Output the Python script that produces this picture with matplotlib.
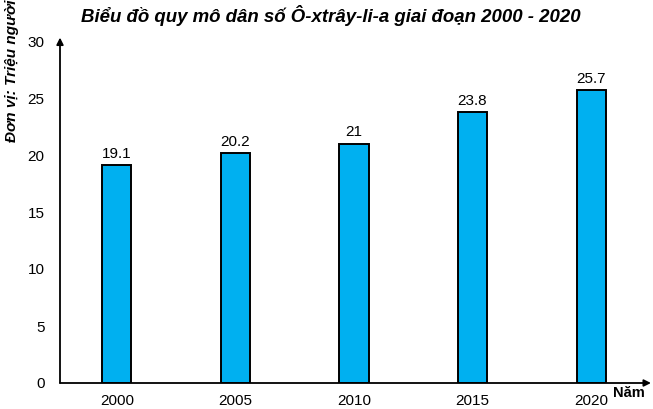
import matplotlib
matplotlib.use("Agg")
import matplotlib.pyplot as plt

# === Data ===
years = ["2000", "2005", "2010", "2015", "2020"]
population = [19.1, 20.2, 21, 23.8, 25.7]
value_labels = ["19.1", "20.2", "21", "23.8", "25.7"]
y_ticks = [0, 5, 10, 15, 20, 25, 30]

plt.rcParams["font.family"] = ["Liberation Sans", "DejaVu Sans"]

W, H = 653, 409
fig = plt.figure(figsize=(W / 100, H / 100), dpi=100)
ax = fig.add_axes([60 / W, (H - 383) / H, 588 / W, (383 - 41) / H])

x = list(range(len(years)))
ax.bar(x, population, width=0.245, color="#00B0F0", edgecolor="black", linewidth=1.4, zorder=2)
for xi, v, lab in zip(x, population, value_labels):
    ax.annotate(lab, (xi, v), xytext=(0, 3), textcoords="offset points",
                ha="center", va="bottom", fontsize=11)

ax.set_xlim(-0.48, 4.48)
ax.set_ylim(0, 30)
ax.set_xticks(x)
ax.set_xticklabels(years, fontsize=11)
ax.set_yticks(y_ticks)
ax.set_yticklabels([str(t) for t in y_ticks], fontsize=11)
ax.tick_params(axis="y", length=0, pad=11)
ax.tick_params(axis="x", length=0, pad=8)
for s in ax.spines.values():
    s.set_visible(False)

# axes with arrows
ax.annotate("", xy=(0, 1.01), xytext=(0, 0), xycoords="axes fraction",
            arrowprops=dict(arrowstyle="-|>", color="black", lw=1.3, mutation_scale=10,
                            shrinkA=0, shrinkB=0))
ax.annotate("", xy=(1.005, 0), xytext=(0, 0), xycoords="axes fraction",
            arrowprops=dict(arrowstyle="-|>", color="black", lw=1.3, mutation_scale=10,
                            shrinkA=0, shrinkB=0))

fig.text(331 / W, 1 - 16 / H, "Biểu đồ quy mô dân số Ô-xtrây-li-a giai đoạn 2000 - 2020",
         ha="center", va="center", fontsize=13.4, fontweight="bold", fontstyle="italic")
fig.text(12 / W, 1 - 142 / H, "Đơn vị: Triệu người", rotation=90, ha="center", va="bottom",
         fontsize=11, fontweight="bold", fontstyle="italic")
fig.text(629 / W, 1 - 393 / H, "Năm", ha="center", va="center", fontsize=10.5, fontweight="bold")

fig.savefig("out.png", dpi=100)
